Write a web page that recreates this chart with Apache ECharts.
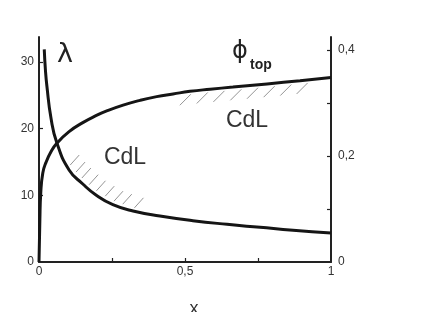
<!DOCTYPE html>
<html><head><meta charset="utf-8">
<script src="https://cdn.jsdelivr.net/npm/echarts@6/dist/echarts.min.js"></script>
<style>html,body{margin:0;padding:0;background:#fff}#c{width:436px;height:312px}</style>
</head><body><div id="c"></div>
<script>
// lambda curve (left axis)
var lamX = [0.018, 0.022, 0.027, 0.041, 0.061, 0.103, 0.15, 0.195, 0.253, 0.322, 0.414, 0.527, 0.644, 0.757, 0.87, 1.0];
var lamY = [31.9, 28.8, 26.4, 21.6, 17.9, 13.8, 11.7, 10.05, 8.6, 7.65, 6.9, 6.2, 5.65, 5.2, 4.75, 4.35];
// phi_top curve (right axis)
var phiX = [0, 0.003, 0.006, 0.013, 0.024, 0.041, 0.061, 0.103, 0.15, 0.195, 0.232, 0.288, 0.346, 0.403, 0.459, 0.517, 0.586, 0.664, 0.781, 0.894, 1.0];
var phiY = [0, 0.08, 0.13, 0.168, 0.188, 0.208, 0.224, 0.246, 0.263, 0.276, 0.285, 0.296, 0.305, 0.312, 0.317, 0.322, 0.326, 0.330, 0.336, 0.342, 0.348];
// hatch positions (x) along each curve
var lamHatchX = [0.10, 0.12, 0.14, 0.165, 0.19, 0.22, 0.25, 0.28, 0.32];
var phiHatchX = [0.52, 0.578, 0.635, 0.693, 0.75, 0.807, 0.864, 0.92];
// tick labels
var xTicks = [0.25, 0.5, 0.75], xLabels = [0, 0.5, 1];
var leftTicks = [10, 20, 30], leftLabels = [0, 10, 20, 30];
var rightTicks = [0.1, 0.2, 0.3, 0.4], rightLabels = [0, 0.2, 0.4];

function interp(xs, ys, x) {
  for (var i = 0; i < xs.length - 1; i++) {
    if (x >= xs[i] && x <= xs[i + 1]) {
      var t = (x - xs[i]) / (xs[i + 1] - xs[i]);
      return ys[i] + t * (ys[i + 1] - ys[i]);
    }
  }
  return ys[ys.length - 1];
}
function comma(v) { return String(+v.toFixed(2)).replace('.', ','); }

var axisCol = '#222', txtCol = '#333', font = '"Liberation Sans", Arial, sans-serif';
var chart = echarts.init(document.getElementById('c'));
function hatch(xs, ys, yIdx, dx0, dy0, dx1, dy1) {
  return {
    type: 'custom', xAxisIndex: 0, yAxisIndex: yIdx, silent: true, clip: false,
    data: (yIdx === 0 ? lamHatchX : phiHatchX).map(function (x) { return [x]; }),
    renderItem: function (params, api) {
      var x = api.value(0);
      var p = api.coord([x, interp(xs, ys, x)]);
      return { type: 'line', shape: { x1: p[0] + dx0, y1: p[1] + dy0, x2: p[0] + dx1, y2: p[1] + dy1 },
        style: { stroke: '#888', lineWidth: 0.9 } };
    }
  };
}
chart.setOption({
  animation: false,
  grid: { left: 39, right: 105, top: 37, bottom: 50, containLabel: false, outerBoundsMode: 'none' },
  xAxis: {
    type: 'value', min: 0, max: 1,
    axisLine: { lineStyle: { color: axisCol, width: 2 } },
    axisTick: { inside: true, length: 4, customValues: xTicks, lineStyle: { color: axisCol, width: 1.2 } },
    axisLabel: { customValues: xLabels, margin: 4, color: txtCol, fontSize: 12, fontFamily: font, formatter: comma },
    splitLine: { show: false }
  },
  yAxis: [{
    type: 'value', min: 0, max: 33.75, position: 'left',
    axisLine: { show: true, lineStyle: { color: axisCol, width: 2 } },
    axisTick: { show: true, inside: true, length: 4, customValues: leftTicks, lineStyle: { color: axisCol, width: 1.2 } },
    axisLabel: { customValues: leftLabels, margin: 5, color: txtCol, fontSize: 12, fontFamily: font },
    splitLine: { show: false }
  }, {
    type: 'value', min: 0, max: 0.4245, position: 'right',
    axisLine: { show: true, lineStyle: { color: axisCol, width: 2 } },
    axisTick: { show: true, inside: true, length: 4, customValues: rightTicks, lineStyle: { color: axisCol, width: 1.2 } },
    axisLabel: { customValues: rightLabels, margin: 7, color: txtCol, fontSize: 12, fontFamily: font, formatter: comma },
    splitLine: { show: false }
  }],
  series: [{
    type: 'line', yAxisIndex: 0, showSymbol: false, smooth: 0.5,
    lineStyle: { color: '#151515', width: 3 },
    data: lamX.map(function (x, i) { return [x, lamY[i]]; })
  }, {
    type: 'line', yAxisIndex: 1, showSymbol: false, smooth: 0.5,
    lineStyle: { color: '#151515', width: 3 },
    data: phiX.map(function (x, i) { return [x, phiY[i]]; })
  },
  hatch(lamX, lamY, 0, 2, -3, 11, -13),
  hatch(phiX, phiY, 1, 0, 3, -11, 14)
  ],
  graphic: [
    { type: 'text', left: 57, top: 41, style: { text: 'λ', fontSize: 27, fontFamily: 'DejaVu Sans', fill: '#222' } },
    { type: 'text', left: 232, top: 40, style: { text: 'ϕ', fontSize: 24, fontFamily: 'DejaVu Sans', fill: '#222' } },
    { type: 'text', left: 250, top: 58, style: { text: 'top', fontSize: 14, fontWeight: 'bold', fontFamily: font, fill: '#222' } },
    { type: 'text', x: 125, y: 158, style: { text: 'CdL', fontSize: 23, fontFamily: font, fill: '#333', align: 'center', verticalAlign: 'middle' } },
    { type: 'text', x: 247, y: 120.5, style: { text: 'CdL', fontSize: 23, fontFamily: font, fill: '#333', align: 'center', verticalAlign: 'middle' } },
    { type: 'text', x: 194, y: 309, style: { text: 'x', fontSize: 18, fontFamily: font, fill: '#333', align: 'center', verticalAlign: 'middle' } }
  ]
});
</script></body></html>
